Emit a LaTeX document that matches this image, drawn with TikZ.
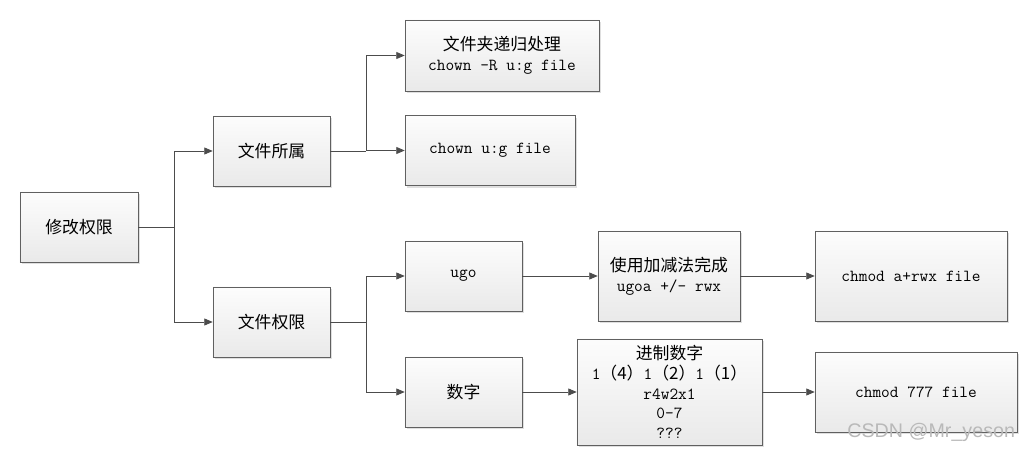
\documentclass[tikz,border=0pt]{standalone}
\usepackage{fontspec}
\newfontfamily\cjk{Noto Sans CJK SC}
\newfontfamily\wmfont{Liberation Sans}
\usetikzlibrary{arrows.meta,shadows}
\tikzset{
  box/.style={draw=gray!75!black, top color=gray!2, bottom color=gray!17,
    drop shadow={shadow xshift=1.5pt, shadow yshift=-1.5pt, opacity=0.25},
    align=center, inner sep=2pt, font=\ttfamily\fontsize{12}{14}\selectfont},
  conn/.style={draw=gray!60!black, line width=0.6pt, -{Triangle[length=6pt,width=5pt]}},
  link/.style={draw=gray!60!black, line width=0.6pt},
}

\begin{document}
\begin{tikzpicture}[x=0.025cm, y=-0.025cm]
		%%%%% START %%%%%
		\useasboundingbox (0, 0) rectangle (1033, 452);
		
		\node[box, minimum width=2.95cm, minimum height=1.75cm] (root) at (79, 227) {\cjk 修改权限};
		
		\node[box, minimum width=2.925cm, minimum height=1.75cm] (owner) at (271.5, 151) {\cjk 文件所属};
		\node[box, minimum width=2.925cm, minimum height=1.75cm] (perm) at (271.5, 322) {\cjk 文件权限};
		
		\node[box, minimum width=4.85cm, minimum height=1.775cm] (recur) at (502, 55.5) {{\cjk 文件夹递归处理}\\chown -R u:g file};
		\node[box, minimum width=4.25cm, minimum height=1.75cm] (chown) at (490, 150.5) {chown u:g file};
		
		\node[box, minimum width=2.925cm, minimum height=1.75cm] (ugo) at (463.5, 276) {ugo};
		\node[box, minimum width=3.55cm, minimum height=2.25cm] (plus) at (669, 276) {{\cjk 使用加减法完成}\\ugoa +/- rwx};
		\node[box, minimum width=4.8cm, minimum height=2.25cm] (chmodA) at (911, 276) {chmod a+rwx file};
		
		\node[box, minimum width=2.925cm, minimum height=1.75cm] (num) at (463.5, 392) {\cjk 数字};
		\node[box, minimum width=4.625cm, minimum height=2.65cm] (octal) at (669.5, 392) {{\cjk 进制数字}\\1{\cjk （4）}1{\cjk （2）}1{\cjk （1）}\\r4w2x1\\0-7\\???};
		\node[box, minimum width=5.05cm, minimum height=2cm] (chmodN) at (916, 392) {chmod 777 file};
		
		\draw[link] (root.east) -- ++(36, 0) coordinate (fork1);
		\draw[conn] (fork1) |- (owner.west);
		\draw[conn] (fork1) |- (perm.west);
		
		\draw[link] (owner.east) -- ++(36, 0) coordinate (fork2);
		\draw[conn] (fork2) |- (recur.west);
		\draw[conn] (fork2) |- (chown.west);
		
		\draw[link] (perm.east) -- ++(36, 0) coordinate (fork3);
		\draw[conn] (fork3) |- (ugo.west);
		\draw[conn] (fork3) |- (num.west);
		
		\draw[conn] (ugo) -- (plus);
		\draw[conn] (plus) -- (chmodA);
		\draw[conn] (num) -- (octal);
		\draw[conn] (octal) -- (chmodN);
		
		\node[text=gray!55, font=\wmfont\fontsize{14}{14}\selectfont, anchor=east] (mark) at (1020, 432) {CSDN @Mr\_yeson};
		
		%%%%% END %%%%%
\end{tikzpicture}
\end{document}
